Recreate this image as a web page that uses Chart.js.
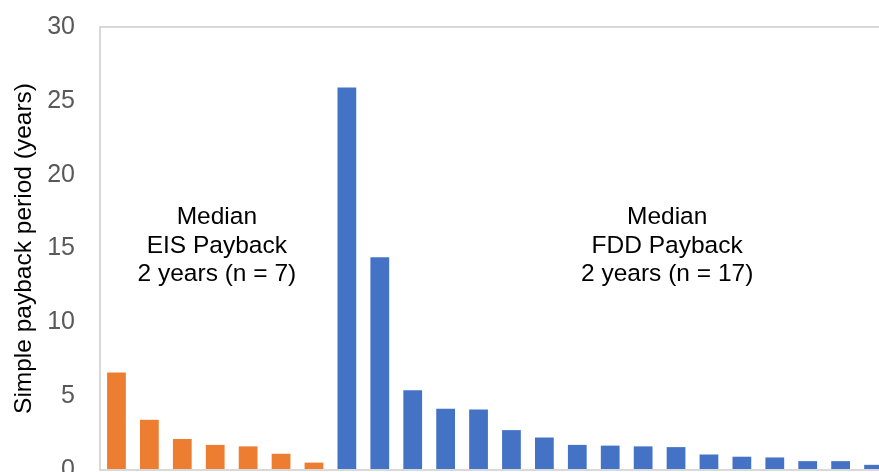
<!DOCTYPE html>
<html>
<head>
<meta charset="utf-8">
<script src="https://cdn.jsdelivr.net/npm/chart.js@4.4.0/dist/chart.umd.min.js"></script>
<style>
html, body { margin:0; padding:0; width:879px; height:472px; overflow:hidden; background:#fff; }
#wrap { position:absolute; left:0; top:-13px; width:890px; height:523px; }
</style>
</head>
<body>
<div id="wrap"><canvas id="paybackChart"></canvas></div>
<script>
// site categories, EIS first then FDD
const categories = [
  "EIS 1","EIS 2","EIS 3","EIS 4","EIS 5","EIS 6","EIS 7",
  "FDD 1","FDD 2","FDD 3","FDD 4","FDD 5","FDD 6","FDD 7","FDD 8","FDD 9",
  "FDD 10","FDD 11","FDD 12","FDD 13","FDD 14","FDD 15","FDD 16","FDD 17"
];
const eisLabels = categories.slice(0, 7);
const fddLabels = categories.slice(7);

// simple payback, years
const eisPayback = [6.6, 3.4, 2.1, 1.7, 1.6, 1.1, 0.5];
const fddPayback = [25.9, 14.4, 5.4, 4.15, 4.1, 2.7, 2.2, 1.7, 1.65, 1.6, 1.55, 1.05, 0.9, 0.85, 0.6, 0.6, 0.35];

const yTicks = [0, 5, 10, 15, 20, 25, 30];

const eisNote = ["Median", "EIS Payback", "2 years (n = 7)"];
const fddNote = ["Median", "FDD Payback", "2 years (n = 17)"];

const FONT = "'Liberation Sans', Arial, sans-serif";

// light grey frame round the plot area
const framePlugin = {
  id: "frame",
  afterDatasetsDraw(chart) {
    const {ctx, chartArea: a} = chart;
    ctx.save();
    ctx.strokeStyle = "#d9d9d9";
    ctx.lineWidth = 2;
    ctx.strokeRect(a.left, a.top, a.right - a.left, a.bottom - a.top);
    ctx.restore();
  }
};

// the two "Median" text blocks
const notesPlugin = {
  id: "notes",
  afterDraw(chart, args, opts) {
    const {ctx, scales: {x, y}} = chart;
    ctx.save();
    ctx.font = "24.5px " + FONT;
    ctx.fillStyle = "#000";
    ctx.textAlign = "center";
    ctx.textBaseline = "middle";
    opts.blocks.forEach(b => {
      const px = x.getPixelForValue(b.at);
      const py = y.getPixelForValue(b.y);
      b.lines.forEach((t, i) => ctx.fillText(t, px, py + i * 28.5));
    });
    ctx.restore();
  }
};

new Chart("paybackChart", {
  type: "bar",
  data: {
    labels: categories,
    datasets: [
      {
        label: "EIS",
        data: eisLabels.map((c, i) => ({x: c, y: eisPayback[i]})),
        backgroundColor: "#ED7D31",
        grouped: false
      },
      {
        label: "FDD",
        data: fddLabels.map((c, i) => ({x: c, y: fddPayback[i]})),
        backgroundColor: "#4472C4",
        grouped: false
      }
    ]
  },
  options: {
    responsive: true,
    maintainAspectRatio: false,
    animation: false,
    barPercentage: 0.57,
    categoryPercentage: 1.0,
    layout: { padding: { top: 14, left: 0, right: 0, bottom: 0 } },
    plugins: {
      legend: { display: false },
      tooltip: { enabled: false },
      notes: {
        blocks: [
          { lines: eisNote, at: 3.05, y: 17.1 },
          { lines: fddNote, at: 16.73, y: 17.1 }
        ]
      }
    },
    scales: {
      x: {
        ticks: { display: false },
        grid: { display: false, drawTicks: false },
        border: { display: false },
        afterFit: s => { s.height = 16; }
      },
      y: {
        min: 0,
        max: 30,
        afterBuildTicks: s => { s.ticks = yTicks.map(v => ({value: v})); },
        ticks: { color: "#595959", padding: 25, font: { family: FONT, size: 25 } },
        grid: { display: false, drawTicks: false },
        border: { display: false },
        title: {
          display: true,
          text: "Simple payback period (years)",
          color: "#000",
          padding: { top: 10 },
          font: { family: FONT, size: 24.5 }
        },
        afterFit: s => { s.width = 100; }
      }
    }
  },
  plugins: [framePlugin, notesPlugin]
});
</script>
</body>
</html>
